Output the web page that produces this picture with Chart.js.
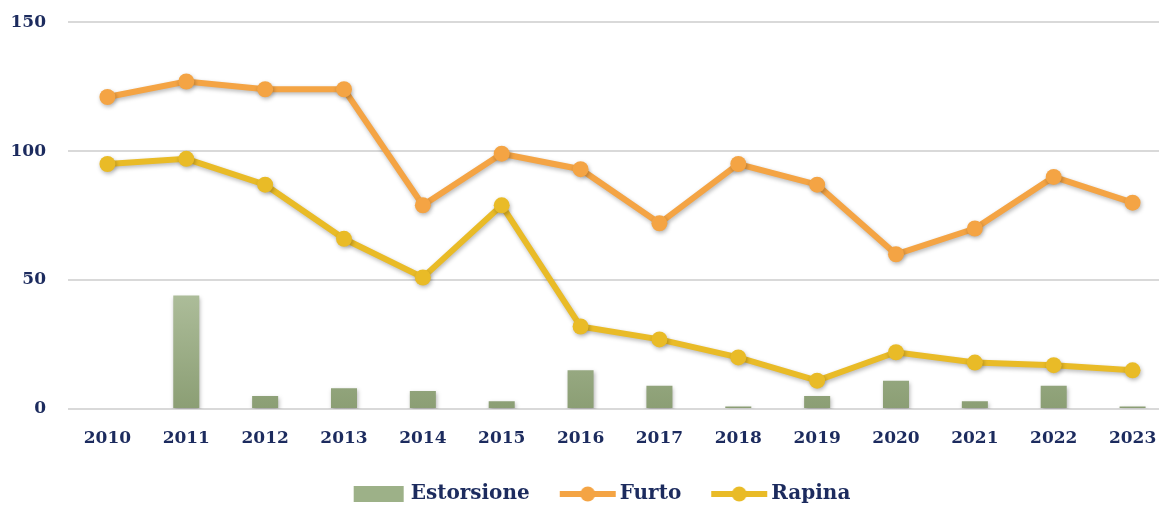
<!DOCTYPE html>
<html>
<head>
<meta charset="utf-8">
<script src="https://cdn.jsdelivr.net/npm/chart.js@4.4.0/dist/chart.umd.min.js"></script>
<style>
  html, body { margin: 0; padding: 0; background: #fff; overflow: hidden; }
  #wrap { position: relative; top: -10px; width: 1172px; height: 524px; }
</style>
</head>
<body>
<div id="wrap"><canvas id="myChart"></canvas></div>
<script>
var anni = ['2010','2011','2012','2013','2014','2015','2016','2017','2018','2019','2020','2021','2022','2023'];
var estorsione = [0, 44, 5, 8, 7, 3, 15, 9, 1, 5, 11, 3, 9, 1];
var furto = [121, 127, 124, 124, 79, 99, 93, 72, 95, 87, 60, 70, 90, 80];
var rapina = [95, 97, 87, 66, 51, 79, 32, 27, 20, 11, 22, 18, 17, 15];
var yTicks = [0, 50, 100, 150];

var navy = '#1c2b5e';
var arancio = '#f4a444';
var giallo = '#e9bb27';
var verde = '#9db188';

// icone della legenda: 74 px, piu' larghe del box (60) per avvicinarle al testo
function iconaLinea(col) {
  var c = document.createElement('canvas');
  c.width = 74; c.height = 18;
  var g = c.getContext('2d');
  g.strokeStyle = col; g.lineWidth = 6;
  g.beginPath(); g.moveTo(17, 9); g.lineTo(73, 9); g.stroke();
  g.fillStyle = col;
  g.beginPath(); g.arc(45, 9, 7.5, 0, Math.PI * 2); g.fill();
  return c;
}
function iconaBarra(col) {
  var c = document.createElement('canvas');
  c.width = 74; c.height = 16;
  var g = c.getContext('2d');
  g.fillStyle = col; g.fillRect(20, 0, 50, 16);
  return c;
}

var ombra = {
  id: 'ombra',
  beforeDatasetDraw: function(chart) {
    var ctx = chart.ctx;
    ctx.save();
    ctx.shadowColor = 'rgba(0,0,0,0.28)';
    ctx.shadowBlur = 4;
    ctx.shadowOffsetX = 1;
    ctx.shadowOffsetY = 2;
  },
  afterDatasetDraw: function(chart) {
    chart.ctx.restore();
  },
  // sposta un po' la legenda a destra come nell'originale
  afterLayout: function(chart) {
    if (chart.legend) chart.legend.left += 19;
  }
};

function gradienteVerde(context) {
  var chart = context.chart;
  var area = chart.chartArea;
  if (!area) return verde;
  var top = chart.scales.y.getPixelForValue(45);
  var g = chart.ctx.createLinearGradient(0, top, 0, area.bottom);
  g.addColorStop(0, '#adbd9a');
  g.addColorStop(1, '#8b9e74');
  return g;
}

var ctx = document.getElementById('myChart').getContext('2d');
var myChart = new Chart(ctx, {
  type: 'bar',
  data: {
    labels: anni,
    datasets: [{
      type: 'bar',
      label: 'Estorsione',
      data: estorsione,
      backgroundColor: gradienteVerde,
      barPercentage: 0.33,
      categoryPercentage: 1.0
    }, {
      type: 'line',
      label: 'Furto',
      data: furto,
      borderColor: arancio,
      backgroundColor: arancio,
      borderWidth: 6,
      pointRadius: 8,
      pointBorderWidth: 0,
      tension: 0,
      fill: false
    }, {
      type: 'line',
      label: 'Rapina',
      data: rapina,
      borderColor: giallo,
      backgroundColor: giallo,
      borderWidth: 6,
      pointRadius: 8,
      pointBorderWidth: 0,
      tension: 0,
      fill: false
    }]
  },
  options: {
    responsive: true,
    maintainAspectRatio: false,
    animation: false,
    layout: { autoPadding: false, padding: { top: 11, left: 0, right: 0, bottom: 0 } },
    plugins: {
      tooltip: { enabled: false },
      legend: {
        position: 'bottom',
        labels: {
          usePointStyle: true,
          pointStyleWidth: 60,
          padding: 20,
          color: navy,
          font: { family: 'DejaVu Serif', weight: 'bold', size: 20 },
          generateLabels: function(chart) {
            return chart.data.datasets.map(function(ds, i) {
              return {
                text: ds.label,
                fontColor: navy,
                pointStyle: ds.type === 'bar' ? iconaBarra(verde) : iconaLinea(ds.borderColor),
                datasetIndex: i,
                hidden: false,
                lineWidth: 0
              };
            });
          }
        }
      }
    },
    scales: {
      x: {
        grid: { display: false },
        border: { display: false },
        afterFit: function(axis) { axis.height = 55; },
        ticks: {
          color: navy,
          padding: 11,
          font: { family: 'DejaVu Serif', weight: 'bold', size: 17 }
        }
      },
      y: {
        min: 0,
        max: 150,
        afterBuildTicks: function(axis) {
          axis.ticks = yTicks.map(function(v) { return { value: v }; });
        },
        afterFit: function(axis) { axis.width = 68; },
        grid: { color: '#d9d9d9', lineWidth: 2, drawTicks: false },
        border: { display: false },
        ticks: {
          color: navy,
          padding: 22,
          font: { family: 'DejaVu Serif', weight: 'bold', size: 17 }
        }
      }
    }
  },
  plugins: [ombra]
});
</script>
</body>
</html>
